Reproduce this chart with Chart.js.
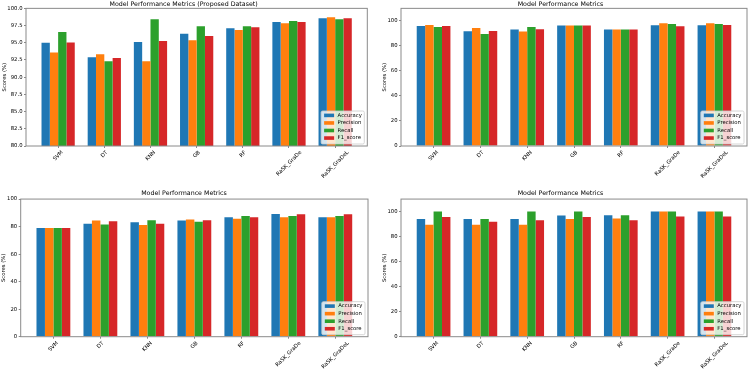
<!DOCTYPE html>
<html>
<head>
<meta charset="utf-8">
<script src="https://cdn.jsdelivr.net/npm/chart.js@4.4.0/dist/chart.umd.min.js"></script>
<style>
  html, body { margin: 0; padding: 0; background: #fff; }
  #figura { position: relative; width: 749px; height: 369px; overflow: hidden; }
  .panel { position: absolute; }
  canvas { display: block; }
</style>
</head>
<body>
<div id="figura">
  <div class="panel" style="left:0;top:0"><canvas id="chartA" width="374" height="185"></canvas></div>
  <div class="panel" style="left:374px;top:0"><canvas id="chartB" width="375" height="185"></canvas></div>
  <div class="panel" style="left:0;top:185px"><canvas id="chartC" width="374" height="184"></canvas></div>
  <div class="panel" style="left:374px;top:185px"><canvas id="chartD" width="375" height="184"></canvas></div>
</div>
<script>
// Datos
const categorias = ['SVM', 'DT', 'KNN', 'GB', 'RF', 'RaSK_GraDe', 'RaSK_GraDeL'];
const metricas = ['Accuracy', 'Precision', 'Recall', 'F1_score'];

// Arriba izquierda (Proposed Dataset)
const propAccuracy  = [95.0, 92.9, 95.1, 96.3, 97.1, 98.0, 98.55];
const propPrecision = [93.6, 93.35, 92.3, 95.35, 96.85, 97.85, 98.7];
const propRecall    = [96.55, 92.3, 98.4, 97.4, 97.4, 98.15, 98.4];
const propF1        = [95.05, 92.8, 95.25, 96.0, 97.25, 98.0, 98.55];

// Arriba derecha
const bAccuracy  = [95.5, 91.2, 92.6, 95.8, 92.6, 96.0, 96.0];
const bPrecision = [96.3, 93.9, 91.0, 95.8, 92.6, 97.6, 97.6];
const bRecall    = [94.7, 89.1, 94.7, 95.8, 92.6, 97.1, 97.1];
const bF1        = [95.5, 91.5, 92.8, 95.8, 92.6, 95.2, 96.3];

// Abajo izquierda
const cAccuracy  = [78.9, 82.1, 83.1, 84.5, 86.7, 89.1, 86.7];
const cPrecision = [79.0, 84.5, 81.1, 85.2, 85.7, 86.7, 86.7];
const cRecall    = [79.0, 81.6, 84.7, 83.5, 87.7, 87.7, 87.7];
const cF1        = [79.0, 83.8, 82.1, 84.7, 86.7, 88.9, 88.9];

// Abajo derecha
const dAccuracy  = [94.1, 94.1, 94.1, 96.8, 97.0, 100, 100];
const dPrecision = [89.4, 89.4, 89.4, 94.1, 94.4, 100, 100];
const dRecall    = [100, 94.1, 100, 100, 97.0, 100, 100];
const dF1        = [95.7, 91.8, 93.1, 95.7, 93.1, 96.0, 96.0];

const colores = ['#1f77b4', '#ff7f0e', '#2ca02c', '#d62728'];
const fuente = 'DejaVu Sans';
const fsTick = 5.3;
const fsTitulo = 6.3;
const colorTexto = '#000';
const colorEje = '#8a8a8a';

// Spines arriba/derecha, etiquetas x rotadas y leyenda dentro del area
const extras = {
    id: 'extras',
    afterDraw(chart) {
        const { ctx, chartArea: a } = chart;
        const x = chart.scales.x;
        ctx.save();

        // Marco del area
        ctx.strokeStyle = colorEje;
        ctx.lineWidth = 1;
        ctx.strokeRect(a.left, a.top, a.right - a.left, a.bottom - a.top);

        // Etiquetas del eje x centradas en el tick (rotacion 45)
        ctx.font = fsTick + 'px "' + fuente + '"';
        ctx.fillStyle = colorTexto;
        ctx.textAlign = 'center';
        ctx.textBaseline = 'middle';
        categorias.forEach((c, i) => {
            const w = ctx.measureText(c).width;
            const alto = (w + fsTick * 1.1) * Math.SQRT1_2;
            ctx.save();
            ctx.translate(x.getPixelForValue(i), a.bottom + 3.6 + alto / 2);
            ctx.rotate(-Math.PI / 4);
            ctx.fillText(c, 0, 0);
            ctx.restore();
        });

        // Leyenda abajo a la derecha
        const tw = Math.max(...metricas.map(m => ctx.measureText(m).width));
        const bw = 3 + 10 + 3.5 + tw + 2.5;
        const bh = 33;
        const bx = a.right - 3 - bw;
        const by = a.bottom - 2 - bh;
        ctx.beginPath();
        ctx.roundRect(bx, by, bw, bh, 1.5);
        ctx.fillStyle = 'rgba(255,255,255,0.8)';
        ctx.fill();
        ctx.strokeStyle = '#cccccc';
        ctx.lineWidth = 0.8;
        ctx.stroke();
        ctx.textAlign = 'left';
        metricas.forEach((m, i) => {
            const cy = by + 4.4 + i * 7.55;
            ctx.fillStyle = colores[i];
            ctx.fillRect(bx + 3, cy - 1.8, 10, 3.6);
            ctx.fillStyle = colorTexto;
            ctx.fillText(m, bx + 3 + 10 + 3.5, cy);
        });
        ctx.restore();
    }
};

function crearGrafico(id, titulo, valores, eje, caja) {
    const canvas = document.getElementById(id);
    const datasets = metricas.map((m, i) => ({
        label: m,
        data: valores[i].map((v, k) => ({ x: k, y: v })),
        backgroundColor: colores[i],
        borderWidth: 0,
        categoryPercentage: 0.72,
        barPercentage: 1
    }));

    new Chart(canvas, {
        type: 'bar',
        data: { datasets: datasets },
        plugins: [extras],
        options: {
            responsive: false,
            animation: false,
            layout: { padding: { left: 0, top: 0, bottom: 0, right: canvas.width - caja.right } },
            scales: {
                x: {
                    type: 'linear',
                    min: -0.696,
                    max: 6.696,
                    offset: false,
                    ticks: { display: false, stepSize: 1, includeBounds: false },
                    grid: { display: true, offset: false, drawOnChartArea: false, drawTicks: true, tickLength: 2, color: colorEje },
                    border: { display: false },
                    afterFit: s => { s.height = canvas.height - caja.bottom; }
                },
                y: {
                    min: eje.min,
                    max: eje.max,
                    beginAtZero: false,
                    ticks: {
                        stepSize: eje.paso,
                        includeBounds: false,
                        padding: 1.5,
                        color: colorTexto,
                        font: { family: fuente, size: fsTick },
                        callback: v => eje.decimales ? v.toFixed(1) : String(v)
                    },
                    grid: { display: true, drawOnChartArea: false, drawTicks: true, tickLength: 2, color: colorEje },
                    border: { display: false },
                    title: {
                        display: true,
                        text: 'Scores (%)',
                        color: colorTexto,
                        font: { family: fuente, size: fsTick },
                        padding: { top: caja.yTitulo, bottom: 0 }
                    },
                    afterFit: s => { s.width = caja.left; }
                }
            },
            plugins: {
                legend: { display: false },
                tooltip: { enabled: false },
                title: {
                    display: true,
                    text: titulo,
                    color: colorTexto,
                    font: { family: fuente, size: fsTitulo, weight: 'normal' },
                    padding: { top: caja.tituloArriba, bottom: caja.tituloAbajo }
                }
            }
        }
    });
}

crearGrafico('chartA', 'Model Performance Metrics (Proposed Dataset)',
    [propAccuracy, propPrecision, propRecall, propF1],
    { min: 80, max: 100, paso: 2.5, decimales: true },
    { left: 26, right: 367.3, bottom: 146, tituloArriba: 0.4, tituloAbajo: 0.4, yTitulo: 1 });

crearGrafico('chartB', 'Model Performance Metrics',
    [bAccuracy, bPrecision, bRecall, bF1],
    { min: 0, max: 109.5, paso: 20, decimales: false },
    { left: 27, right: 373, bottom: 146, tituloArriba: 0.4, tituloAbajo: 0.4, yTitulo: 7 });

crearGrafico('chartC', 'Model Performance Metrics',
    [cAccuracy, cPrecision, cRecall, cF1],
    { min: 0, max: 100, paso: 20, decimales: false },
    { left: 20.7, right: 368, bottom: 151.7, tituloArriba: 4.95, tituloAbajo: 1.56, yTitulo: 0 });

crearGrafico('chartD', 'Model Performance Metrics',
    [dAccuracy, dPrecision, dRecall, dF1],
    { min: 0, max: 110, paso: 20, decimales: false },
    { left: 27, right: 373, bottom: 151.7, tituloArriba: 4.95, tituloAbajo: 1.56, yTitulo: 7 });
</script>
</body>
</html>
